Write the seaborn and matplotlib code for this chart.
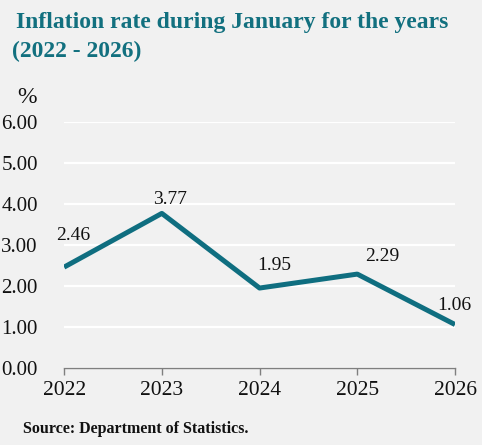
import matplotlib
matplotlib.use("Agg")
import matplotlib.pyplot as plt
import seaborn as sns
import pandas as pd

# data
years = [2022, 2023, 2024, 2025, 2026]
inflation = [2.46, 3.77, 1.95, 2.29, 1.06]
y_ticks = [0, 1, 2, 3, 4, 5, 6]
# label offsets in pixels (dx, dy) from each point
label_offsets = [(9, 32), (8, 14), (15, 23), (25, 18), (-1, 19)]

bg = "#f1f1f1"
teal = "#0f6e80"

sns.set_theme(style="white")
plt.rcParams["font.family"] = ["Liberation Serif", "DejaVu Serif"]

df = pd.DataFrame({"year": years, "rate": inflation})

fig = plt.figure(figsize=(4.82, 4.45), dpi=100, facecolor=bg)
ax = fig.add_axes([0.133, 0.173, 0.811, 0.553], facecolor=bg)

sns.lineplot(data=df, x="year", y="rate", ax=ax, color=teal, linewidth=3.6,
             solid_capstyle="butt", zorder=3)

ax.set_xlim(years[0], years[-1])
ax.set_ylim(0, 6)
ax.set_yticks(y_ticks)
ax.set_yticklabels([f"{v:.2f}" for v in y_ticks])
ax.set_xticks(years)
ax.set_xticklabels([str(y) for y in years])
ax.grid(axis="y", color="white", linewidth=1.6)
ax.grid(axis="x", visible=False)
ax.set_axisbelow(True)
ax.set_xlabel("")
ax.set_ylabel("")

for s in ["top", "right", "left"]:
    ax.spines[s].set_visible(False)
ax.spines["bottom"].set_color("#7f7f7f")
ax.spines["bottom"].set_linewidth(1.0)
ax.spines["bottom"].set_zorder(4)
ax.tick_params(axis="x", bottom=True, length=5, width=1, color="#7f7f7f",
               labelsize=15.5, pad=4, labelcolor="#111111")
ax.tick_params(axis="y", left=False, labelsize=15, pad=13, labelcolor="#111111")

# value labels
for x, y, (dx, dy) in zip(years, inflation, label_offsets):
    ax.annotate(f"{y:.2f}", (x, y), xytext=(dx, dy), textcoords="offset pixels",
                ha="center", va="center", fontsize=14, color="#111111",
                annotation_clip=False)

fig.text(16 / 482, 0.936, "Inflation rate during January for the years",
         fontsize=17, fontweight="bold", color="#12707f", ha="left", va="baseline")
fig.text(12 / 482, 0.872, "(2022 - 2026)",
         fontsize=17, fontweight="bold", color="#12707f", ha="left", va="baseline")
fig.text(17 / 482, 0.768, "%", fontsize=17, color="#111111", ha="left", va="baseline")
fig.text(23 / 482, 0.027, "Source: Department of Statistics.", fontsize=11.5,
         fontweight="bold", color="#111111", ha="left", va="baseline")

fig.savefig("out.png", dpi=100, facecolor=bg)
